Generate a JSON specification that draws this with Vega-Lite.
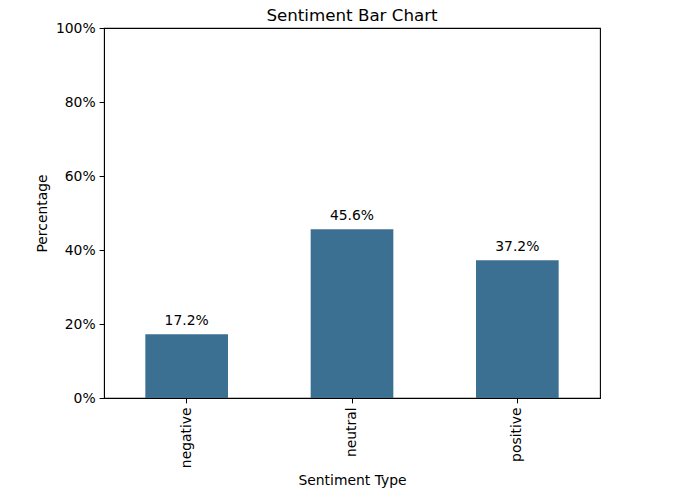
{
  "$schema": "https://vega.github.io/schema/vega-lite/v6.json",
  "autosize": "none",
  "width": 496,
  "height": 370,
  "padding": {"left": 104, "top": 28, "right": 77, "bottom": 100},
  "background": "white",
  "title": {"text": "Sentiment Bar Chart", "font": "DejaVu Sans", "fontSize": 16.7, "fontWeight": "normal", "color": "black", "offset": -4},
  "config": {
    "view": {"stroke": "black", "strokeWidth": 1.1},
    "axis": {
      "labelFont": "DejaVu Sans", "labelFontSize": 13.9, "labelColor": "black",
      "titleFont": "DejaVu Sans", "titleFontSize": 13.9, "titleFontWeight": "normal", "titleColor": "black",
      "domainColor": "black", "tickColor": "black", "tickSize": 4.9, "labelPadding": 4, "grid": false
    }
  },
  "data": {"values": [
    {"sentiment": "negative", "pct": 0.172},
    {"sentiment": "neutral", "pct": 0.456},
    {"sentiment": "positive", "pct": 0.372}
  ]},
  "encoding": {
    "x": {"field": "sentiment", "type": "nominal", "sort": null,
      "scale": {"paddingInner": 0.5, "paddingOuter": 0.25},
      "axis": {"title": "Sentiment Type", "labelAngle": -90, "titlePadding": 6}},
    "y": {"field": "pct", "type": "quantitative",
      "scale": {"domain": [0, 1], "nice": false},
      "axis": {"title": "Percentage", "format": ".0%", "values": [0, 0.2, 0.4, 0.6, 0.8, 1], "titlePadding": 6}}
  },
  "layer": [
    {"mark": {"type": "bar", "color": "#3b7093"}},
    {"mark": {"type": "text", "baseline": "alphabetic", "dy": -9, "font": "DejaVu Sans", "fontSize": 13.9, "color": "black"},
      "encoding": {"text": {"field": "pct", "type": "quantitative", "format": ".1%"}}}
  ]
}
